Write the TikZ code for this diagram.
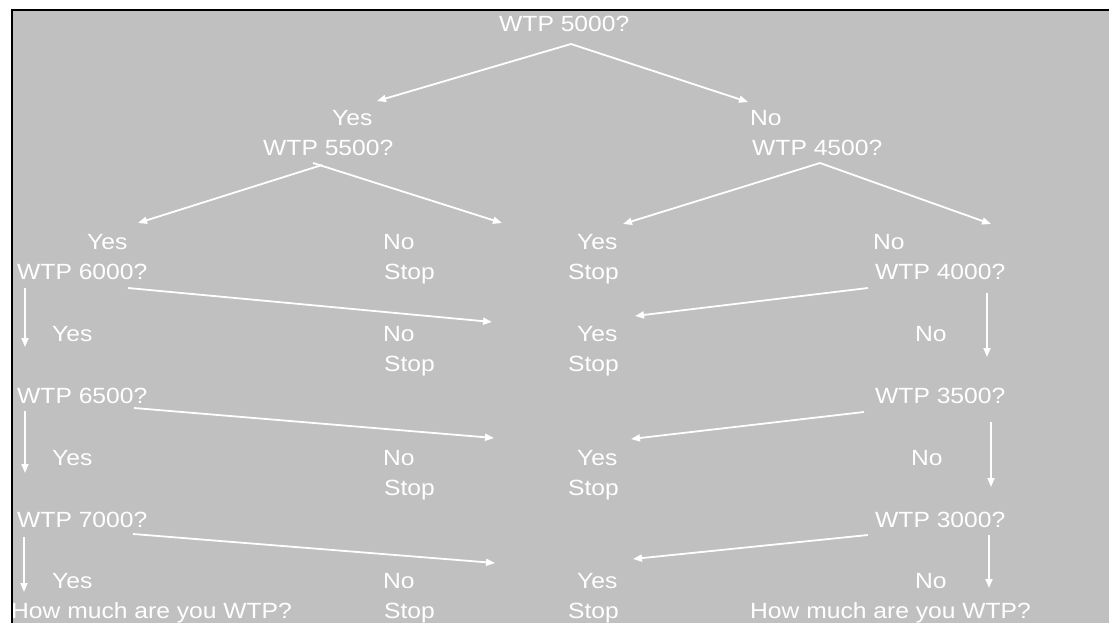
\documentclass[tikz,border=0pt]{standalone}
\usepackage{fontspec}
\setmainfont[FakeStretch=1.12]{Liberation Sans}
\usetikzlibrary{arrows.meta}
\definecolor{bggray}{HTML}{C0C0C0}
\begin{document}
\begin{tikzpicture}[x=1pt,y=-1pt,
  lbl/.style={anchor=base west,inner sep=0pt,text=white,font=\fontsize{22}{30}\selectfont},
  arr/.style={draw=white,line width=1.8pt,-{Triangle[length=9pt,width=7pt]}}]
\useasboundingbox (0,0) rectangle (1109,623);
\fill[white] (0,0) rectangle (1109,623);
\fill[bggray] (12,10) rectangle (1109,623);
\draw[black,line width=2.2pt] (12,623) -- (12,10) -- (1109,10);
% texts
\node[lbl] (t0) at (499,32) {WTP 5000?};
\node[lbl] (a1) at (332,126) {Yes};
\node[lbl] (a2) at (263,156) {WTP 5500?};
\node[lbl] (b1) at (750,126) {No};
\node[lbl] (b2) at (752,156) {WTP 4500?};
% row 2
\node[lbl] (c1) at (87,249) {Yes};
\node[lbl] (c2) at (17,279) {WTP 6000?};
\node[lbl] (d1) at (383,249) {No};
\node[lbl] (d2) at (384,279) {Stop};
\node[lbl] (e1) at (577,249) {Yes};
\node[lbl] (e2) at (568,279) {Stop};
\node[lbl] (f1) at (873,249) {No};
\node[lbl] (f2) at (875,279) {WTP 4000?};
% row 3
\node[lbl] (g1) at (52,341) {Yes};
\node[lbl] (h1) at (383,341) {No};
\node[lbl] (h2) at (384,371) {Stop};
\node[lbl] (i1) at (577,341) {Yes};
\node[lbl] (i2) at (568,371) {Stop};
\node[lbl] (j1) at (915,341) {No};
% row 4
\node[lbl] (k2) at (17,403) {WTP 6500?};
\node[lbl] (l2) at (875,403) {WTP 3500?};
% row 5
\node[lbl] (m1) at (52,465) {Yes};
\node[lbl] (n1) at (383,465) {No};
\node[lbl] (n2) at (384,495) {Stop};
\node[lbl] (o1) at (577,465) {Yes};
\node[lbl] (o2) at (568,495) {Stop};
\node[lbl] (p1) at (911,465) {No};
% row 6
\node[lbl] (q2) at (17,527) {WTP 7000?};
\node[lbl] (r2) at (875,527) {WTP 3000?};
% row 7
\node[lbl] (s1) at (52,588) {Yes};
\node[lbl] (s2) at (11,618) {How much are you WTP?};
\node[lbl] (u1) at (383,588) {No};
\node[lbl] (u2) at (384,618) {Stop};
\node[lbl] (v1) at (577,588) {Yes};
\node[lbl] (v2) at (568,618) {Stop};
\node[lbl] (w1) at (915,588) {No};
\node[lbl] (w2) at (750,618) {How much are you WTP?};
% arrow end points
\coordinate (apex) at (571,44);
\coordinate (tipA) at (377,101);
\coordinate (tipB) at (748,102);
\coordinate (aL) at (322,165);
\coordinate (aR) at (313,163);
\coordinate (tipC) at (138,223);
\coordinate (tipE) at (502,223);
\coordinate (bS) at (820,163);
\coordinate (tipE2) at (623,224);
\coordinate (tipF) at (991,224);
\coordinate (c2s) at (128,288);
\coordinate (c2t) at (492,322);
\coordinate (f2s) at (868,288);
\coordinate (f2t) at (635,316);
\coordinate (c2v) at (25,288);
\coordinate (c2vt) at (25,347);
\coordinate (f2v) at (987,293);
\coordinate (f2vt) at (987,357);
\coordinate (k2s) at (134,408);
\coordinate (k2t) at (494,438);
\coordinate (l2s) at (864,412);
\coordinate (l2t) at (631,439);
\coordinate (k2v) at (25,411);
\coordinate (k2vt) at (25,473);
\coordinate (l2v) at (991,422);
\coordinate (l2vt) at (991,487);
\coordinate (q2s) at (133,534);
\coordinate (q2t) at (495,563);
\coordinate (r2s) at (868,535);
\coordinate (r2t) at (633,559);
\coordinate (q2v) at (24,537);
\coordinate (q2vt) at (24,592);
\coordinate (r2v) at (989,535);
\coordinate (r2vt) at (989,588);
% arrows
\draw[arr] (apex) -- (tipA);
\draw[arr] (apex) -- (tipB);
\draw[arr] (aL) -- (tipC);
\draw[arr] (aR) -- (tipE);
\draw[arr] (bS) -- (tipE2);
\draw[arr] (bS) -- (tipF);
\draw[arr] (c2s) -- (c2t);
\draw[arr] (f2s) -- (f2t);
\draw[arr] (c2v) -- (c2vt);
\draw[arr] (f2v) -- (f2vt);
\draw[arr] (k2s) -- (k2t);
\draw[arr] (l2s) -- (l2t);
\draw[arr] (k2v) -- (k2vt);
\draw[arr] (l2v) -- (l2vt);
\draw[arr] (q2s) -- (q2t);
\draw[arr] (r2s) -- (r2t);
\draw[arr] (q2v) -- (q2vt);
\draw[arr] (r2v) -- (r2vt);
\end{tikzpicture}
\end{document}
